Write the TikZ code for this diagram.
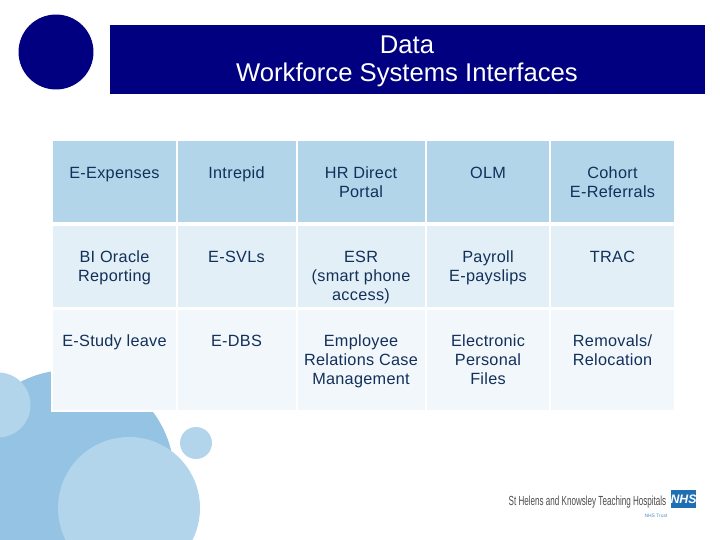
\documentclass[tikz,border=0pt]{standalone}
\usepackage{xcolor}
\usepackage{fontspec}
\setmainfont{Liberation Sans}
\newfontfamily\cellfont[LetterSpace=1.8]{Liberation Sans}
\definecolor{navyband}{HTML}{000080}
\definecolor{celltxt}{HTML}{12305A}
\definecolor{rowa}{HTML}{B3D5EA}
\definecolor{rowb}{HTML}{E3EFF7}
\definecolor{rowc}{HTML}{F2F7FC}
\definecolor{bubbleb}{HTML}{94C3E3}
\definecolor{bubblea}{HTML}{B2D5EB}
\definecolor{nhsblue}{HTML}{1F6FB5}
\tikzset{
    cell/.style={anchor=north west, inner sep=0pt, outer sep=0pt},
    celltext/.style={anchor=north, align=center, inner sep=0pt, text=celltxt, font=\cellfont\fontsize{9.25pt}{10.8pt}\selectfont},
    titletext/.style={align=center, inner sep=0pt, text=white, font=\fontsize{14.6pt}{15.9pt}\selectfont},
    bubble/.style={circle, inner sep=0pt, outer sep=0pt},
}
\begin{document}
\begin{tikzpicture}[x=0.02cm, y=-0.02cm]
    \useasboundingbox (0,0) rectangle (720,540);

    \foreach \k/\i/\j/\r/\c in {big/69/475/210/bubbleb, left/-2/405/65/bubblea, dot/196/443/32/bubblea, low/129/508/142/bubblea} {
        \node (\k) at (\i, \j) [bubble, fill=\c, minimum size=\r*0.02cm] {};
    }

    \node (disc) at (56, 52) [bubble, fill=navyband, minimum size=1.5cm] {};
    \node (band) at (110, 25) [cell, fill=navyband, minimum width=11.9cm, minimum height=1.38cm] {};
    \node (title) at (407, 61) [titletext] {Data\\Workforce Systems Interfaces};

    \node (back) at (51, 139) [cell, fill=white, minimum width=12.5cm, minimum height=5.46cm] {};

    \foreach \k/\i/\w in {1/53/123, 2/178/118, 3/298/127, 4/427/122, 5/551/123} {
        \node (a\k) at (\i, 141) [cell, fill=rowa, minimum width=\w*0.02cm, minimum height=1.62cm] {};
        \node (b\k) at (\i, 226) [cell, fill=rowb, minimum width=\w*0.02cm, minimum height=1.62cm] {};
        \node (c\k) at (\i, 310) [cell, fill=rowc, minimum width=\w*0.02cm, minimum height=2cm] {};
    }

    \foreach \k/\i/\j/\t in {
        ta1/114.5/165/{E-Expenses},
        ta2/236.5/165/{Intrepid},
        ta3/361/165/{HR Direct\\Portal},
        ta4/488/165/{OLM},
        ta5/612.5/165/{Cohort\\E-Referrals},
        tb1/114.5/249/{BI Oracle\\Reporting},
        tb2/236.5/249/{E-SVLs},
        tb3/361/249/{ESR\\(smart phone\\access)},
        tb4/488/249/{Payroll\\E-payslips},
        tb5/612.5/249/{TRAC},
        tc1/114.5/333/{E-Study leave},
        tc2/236.5/333/{E-DBS},
        tc3/361/333/{Employee\\Relations Case\\Management},
        tc4/488/333/{Electronic\\Personal\\Files},
        tc5/612.5/333/{Removals/\\Relocation}} {
        \node (\k) at (\i, \j) [celltext] {\rule{0pt}{7.5pt}\t};
    }

    \node (trust) at (587.5, 502) [inner sep=0pt, text=black!70, xscale=0.613, font=\fontsize{7.5pt}{8pt}\selectfont] {St Helens and Knowsley Teaching Hospitals};
    \node (nhs) at (683.5, 499) [inner sep=0pt, fill=nhsblue, text=white, minimum width=0.5cm, minimum height=0.36cm, font=\bfseries\itshape\fontsize{7pt}{8pt}\selectfont] {NHS};
    \node (nhstrust) at (656, 516) [inner sep=0pt, text=nhsblue!80, font=\fontsize{2.8pt}{4pt}\selectfont] {NHS Trust};
\end{tikzpicture}
\end{document}
